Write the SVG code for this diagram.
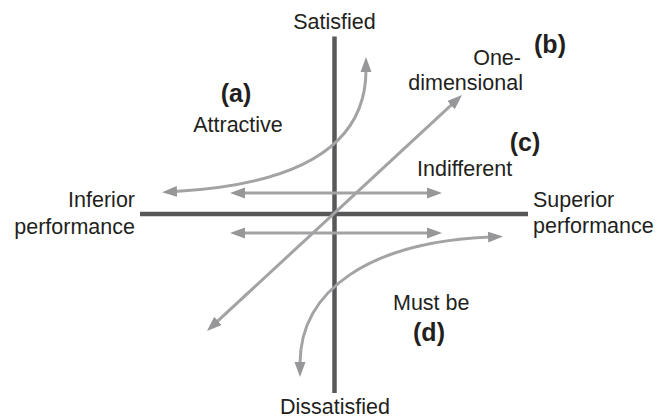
<svg xmlns="http://www.w3.org/2000/svg" width="657" height="418" viewBox="0 0 657 418">
<style>
text{font-family:"Liberation Sans",Arial,sans-serif;font-size:21.5px;fill:#231f20}
.b{font-weight:bold;font-size:25px;text-anchor:middle}
.axis{stroke:#58585a;stroke-width:4.5;fill:none}
.arr{stroke:#a3a3a5;stroke-width:3;fill:none;marker-start:url(#ah);marker-end:url(#ah)}
</style>
<defs>
<marker id="ah" markerUnits="userSpaceOnUse" markerWidth="17" markerHeight="12" refX="2" refY="5.5" orient="auto-start-reverse" viewBox="0 0 17 11">
<path d="M0,0 L15,5.5 L0,11 z" fill="#97979a"/>
</marker>
</defs>
<g id="axes">
<line class="axis" x1="334.5" y1="36.5" x2="334.5" y2="393"/>
<line class="axis" x1="140" y1="214" x2="528" y2="214"/>
</g>
<g id="connectors">
<path class="arr" d="M366,70 C366,150 290,185 175,191.5"/>
<path class="arr" d="M216.5,322.2 L452.5,103.8"/>
<path class="arr" d="M243,193 L429,193"/>
<path class="arr" d="M243,233 L429,233"/>
<path class="arr" d="M300,364 C300,290 370,242 490,237"/>
</g>
<g id="satisfied"><text x="334.5" y="29" text-anchor="middle">Satisfied</text></g>
<g id="dissatisfied"><text x="335" y="414" text-anchor="middle">Dissatisfied</text></g>
<g id="inferior"><text x="135" y="207" text-anchor="end">Inferior</text><text x="135" y="234" text-anchor="end">performance</text></g>
<g id="superior"><text x="533" y="207">Superior</text><text x="533" y="233">performance</text></g>
<g id="attractive"><text class="b" x="236" y="101.5">(a)</text><text x="238" y="132" text-anchor="middle">Attractive</text></g>
<g id="onedimensional"><text x="521" y="65" text-anchor="end">One-</text><text class="b" x="550" y="53">(b)</text><text x="523" y="90" text-anchor="end">dimensional</text></g>
<g id="indifferent"><text class="b" x="525" y="151">(c)</text><text x="417" y="176">Indifferent</text></g>
<g id="mustbe"><text x="393" y="310">Must be</text><text class="b" x="429" y="341">(d)</text></g>
</svg>
